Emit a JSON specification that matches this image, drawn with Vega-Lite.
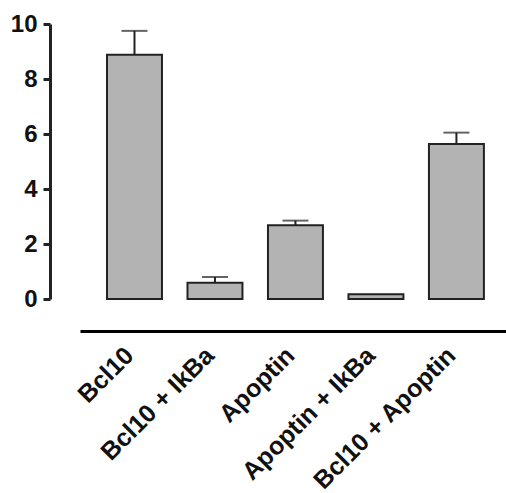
{
  "$schema": "https://vega.github.io/schema/vega-lite/v6.json",
  "autosize": "none",
  "padding": {"left": 80, "top": 24, "right": 0, "bottom": 194},
  "width": 426,
  "height": 275,
  "background": "white",
  "config": {
    "view": {"stroke": null},
    "font": "Liberation Sans",
    "axisX": {
      "offset": 32,
      "domainColor": "black",
      "domainWidth": 3,
      "ticks": false,
      "labelAngle": -45,
      "labelAlign": "right",
      "labelBaseline": "middle",
      "labelFont": "Liberation Sans",
      "labelFontWeight": "bold",
      "labelFontSize": 25,
      "labelColor": "#111",
      "labelPadding": 20,
      "labelOffset": -5,
      "labelLimit": 0
    }
  },
  "data": {
    "values": [
      {"group": "Bcl10", "value": 8.88, "err": 9.75},
      {"group": "Bcl10 + IkBa", "value": 0.59, "err": 0.80},
      {"group": "Apoptin", "value": 2.68, "err": 2.85},
      {"group": "Apoptin + IkBa", "value": 0.17, "err": null},
      {"group": "Bcl10 + Apoptin", "value": 5.64, "err": 6.05}
    ]
  },
  "encoding": {
    "x": {
      "field": "group",
      "type": "nominal",
      "sort": null,
      "scale": {"paddingInner": 0.317, "paddingOuter": 0.305, "align": 0.55},
      "axis": {"title": null}
    }
  },
  "layer": [
    {
      "mark": {"type": "bar", "fill": "#b3b3b3", "stroke": "#222", "strokeWidth": 2},
      "encoding": {
        "y": {
          "field": "value",
          "type": "quantitative",
          "scale": {"domain": [0, 10], "nice": false},
          "axis": {
            "title": null,
            "values": [0, 2, 4, 6, 8, 10],
            "domain": true,
            "ticks": true,
            "grid": false,
            "zindex": 1,
            "offset": 30,
            "domainColor": "#222222",
            "domainOpacity": 1,
            "domainWidth": 3,
            "tickColor": "#222222",
            "tickOpacity": 1,
            "tickWidth": 3,
            "tickSize": 7,
            "labelFont": "Liberation Sans",
            "labelFontWeight": "bold",
            "labelFontSize": 24,
            "labelColor": "#111",
            "labelPadding": 6
          }
        }
      }
    },
    {
      "mark": {"type": "rule", "color": "#222", "strokeWidth": 2},
      "encoding": {
        "y": {"field": "err", "type": "quantitative"},
        "y2": {"field": "value"}
      }
    },
    {
      "mark": {"type": "tick", "color": "#222", "thickness": 2, "size": 26},
      "encoding": {
        "y": {"field": "err", "type": "quantitative"}
      }
    }
  ]
}
